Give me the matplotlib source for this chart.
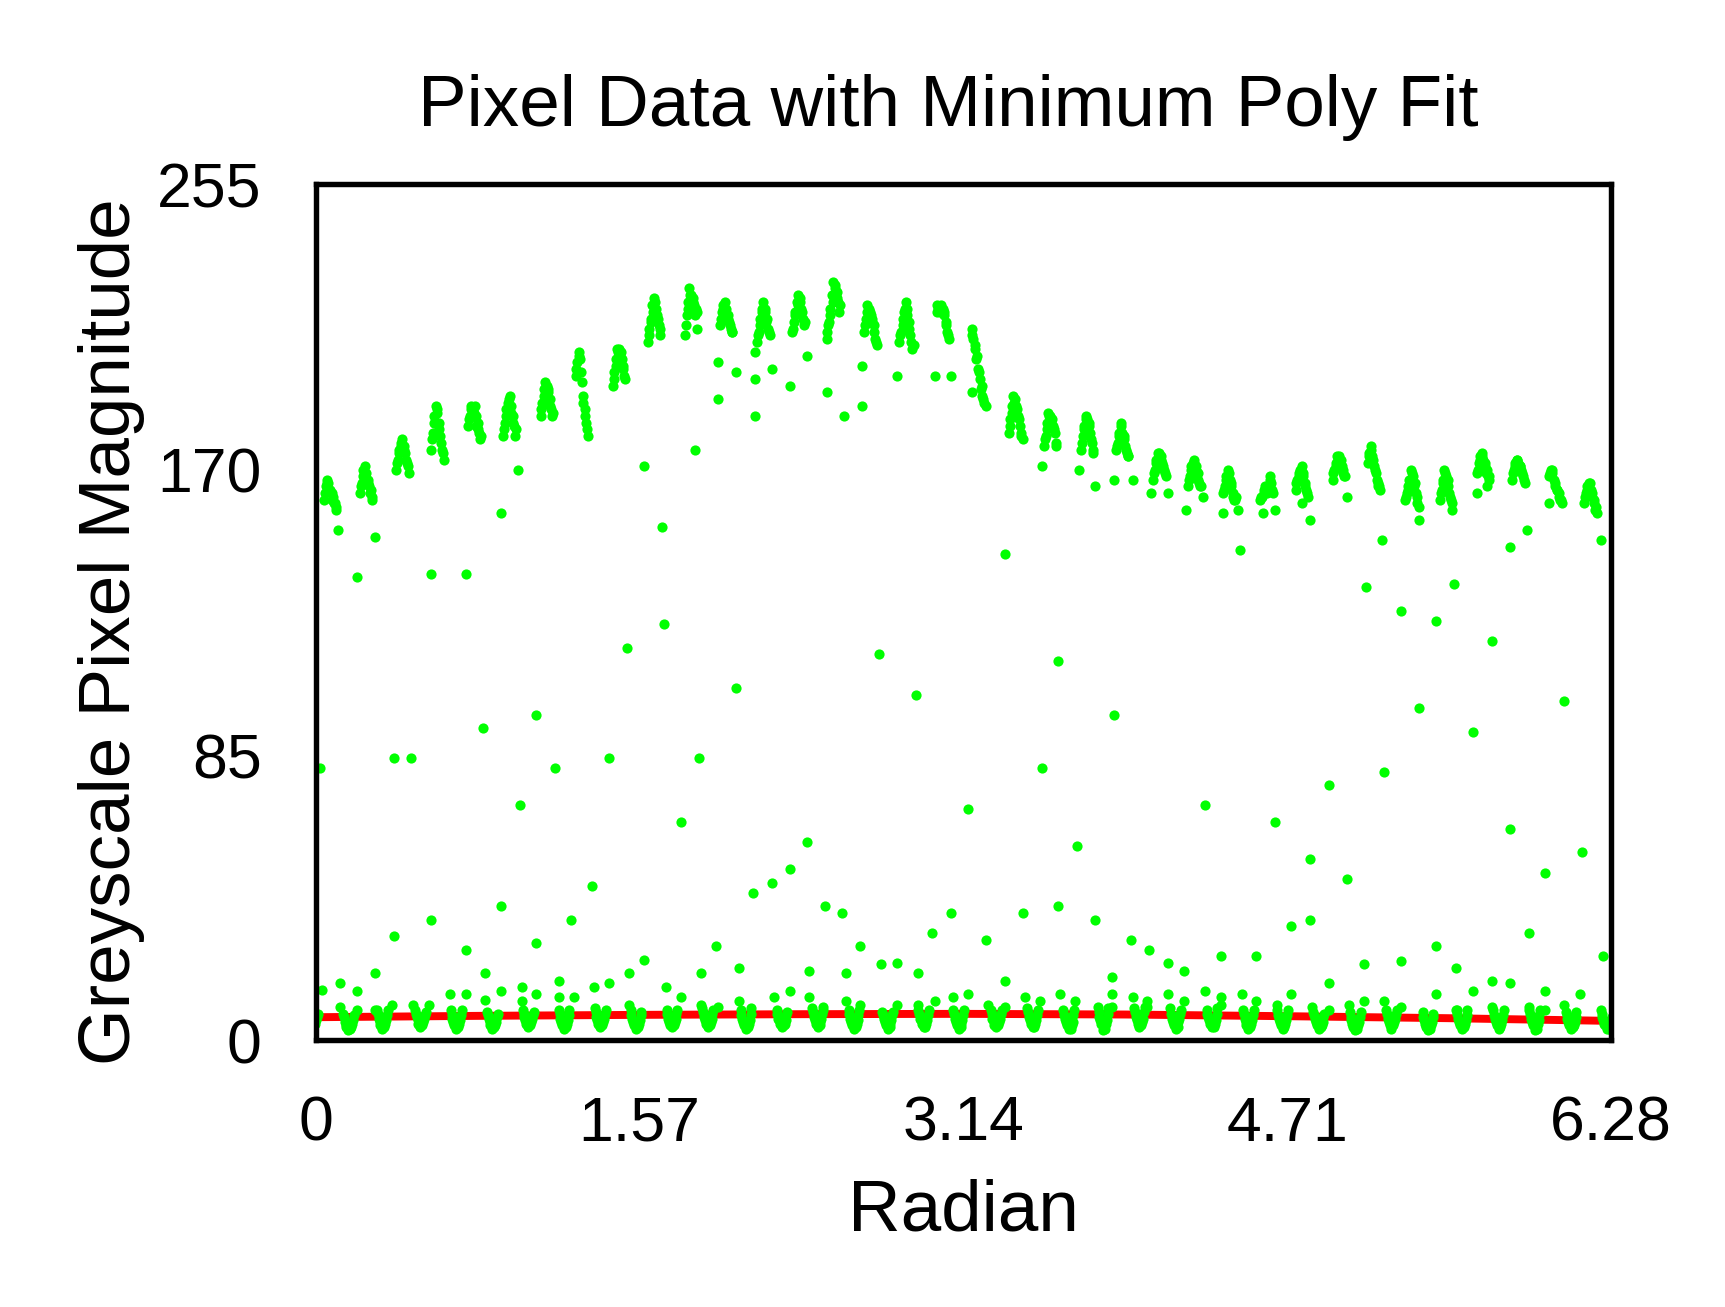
import matplotlib.pyplot as plt

plt.rcParams['font.family'] = ['Liberation Sans', 'DejaVu Sans']

# bright bands: one clump of samples per spoke
upper_centers = [0.07, 0.245, 0.42, 0.59, 0.77, 0.94, 1.12, 1.29, 1.47, 1.64, 1.82, 1.99,
                 2.17, 2.34, 2.51, 2.69, 2.86, 3.04, 3.21, 3.39, 3.56, 3.74, 3.91, 4.09,
                 4.26, 4.43, 4.61, 4.78, 4.96, 5.13, 5.31, 5.48, 5.66, 5.83, 6.01, 6.18]
upper_dx = [-0.03, -0.022, -0.015, -0.008, 0.0, 0.008, 0.015, 0.022, 0.03]
upper_vals = [
    [161, 165, 167, 166, 164, 163, 162, 160, 159],
    [163, 166, 170, 171, 169, 167, 165, 164, 162],
    [170, 173, 176, 178, 179, 177, 175, 172, 169],
    [176, 181, 186, 189, 187, 184, 180, 176, 173],
    [183, 186, 189, 188, 189, 186, 184, 181, 180],
    [180, 184, 188, 190, 192, 189, 186, 183, 182],
    [186, 190, 194, 196, 195, 194, 191, 188, 187],
    [198, 202, 205, 203, 196, 192, 188, 184, 180],
    [195, 199, 203, 206, 206, 205, 203, 200, 197],
    [208, 212, 215, 219, 221, 218, 216, 213, 212],
    [210, 216, 220, 224, 222, 221, 219, 218, 217],
    [213, 217, 219, 220, 218, 216, 214, 212, 211],
    [208, 211, 215, 218, 220, 217, 214, 212, 210],
    [211, 214, 217, 220, 222, 220, 218, 215, 214],
    [211, 214, 218, 222, 226, 225, 223, 220, 219],
    [211, 215, 219, 218, 216, 215, 213, 209, 207],
    [208, 211, 215, 217, 220, 216, 214, 210, 206],
    [219, 218, 217, 219, 218, 216, 214, 211, 209],
    [212, 209, 206, 203, 200, 197, 194, 192, 190],
    [181, 185, 189, 192, 191, 188, 186, 183, 180],
    [177, 180, 184, 187, 186, 185, 183, 181, 178],
    [176, 180, 183, 186, 185, 184, 181, 178, 175],
    [176, 178, 181, 184, 181, 179, 177, 175, 174],
    [167, 170, 173, 175, 175, 174, 172, 170, 168],
    [165, 168, 171, 172, 173, 171, 169, 166, 165],
    [163, 165, 168, 170, 167, 165, 163, 161, 162],
    [161, 162, 164, 165, 163, 165, 168, 166, 163],
    [164, 167, 169, 170, 171, 168, 166, 164, 162],
    [167, 170, 172, 174, 174, 173, 171, 169, 168],
    [172, 175, 177, 174, 171, 169, 167, 165, 164],
    [161, 163, 165, 167, 170, 168, 165, 163, 160],
    [161, 164, 167, 170, 168, 165, 163, 161, 158],
    [169, 172, 174, 175, 173, 171, 169, 168, 167],
    [167, 170, 172, 173, 172, 171, 170, 168, 166],
    [168, 170, 169, 167, 165, 164, 163, 161, 160],
    [160, 163, 165, 166, 164, 162, 160, 158, 157],
]
# second row of samples in each clump
upper_dx2 = [-0.026, -0.015, -0.004, 0.007, 0.018, 0.027]
upper_vals2 = [
    [163, 166, 164, 161, 160, 158],
    [165, 168, 169, 166, 163, 161],
    [172, 175, 177, 176, 173, 171],
    [179, 184, 188, 182, 178, 175],
    [185, 188, 187, 183, 182, 179],
    [182, 186, 191, 187, 184, 180],
    [188, 192, 195, 193, 189, 186],
    [200, 204, 199, 190, 186, 182],
    [197, 201, 205, 204, 201, 198],
    [210, 214, 217, 220, 215, 210],
    [213, 218, 222, 220, 216, 212],
    [215, 218, 217, 215, 213, 211],
    [210, 213, 217, 218, 215, 211],
    [212, 216, 219, 221, 217, 213],
    [213, 216, 220, 224, 221, 217],
    [213, 217, 217, 214, 211, 208],
    [210, 213, 218, 218, 212, 208],
    [217, 218, 218, 217, 213, 210],
    [210, 207, 204, 199, 195, 191],
    [183, 187, 190, 189, 185, 181],
    [179, 182, 186, 184, 182, 177],
    [178, 182, 185, 183, 179, 176],
    [177, 180, 183, 180, 176, 174],
    [169, 172, 174, 173, 171, 169],
    [167, 170, 172, 170, 167, 165],
    [164, 167, 169, 166, 162, 161],
    [162, 163, 164, 164, 167, 164],
    [166, 168, 170, 169, 165, 163],
    [169, 171, 173, 172, 170, 168],
    [174, 176, 173, 170, 166, 165],
    [162, 164, 166, 169, 166, 162],
    [163, 166, 169, 167, 162, 160],
    [170, 173, 174, 172, 170, 168],
    [169, 171, 173, 171, 169, 167],
    [169, 170, 166, 164, 162, 161],
    [162, 164, 166, 163, 161, 159],
]

# dark gaps between spokes: U shaped dips near zero
lower_centers = [-0.015, 0.158, 0.323, 0.507, 0.681, 0.856, 1.030, 1.204, 1.379, 1.553,
                 1.727, 1.901, 2.086, 2.260, 2.434, 2.609, 2.773, 2.947, 3.117, 3.299,
                 3.475, 3.651, 3.817, 3.993, 4.169, 4.345, 4.521, 4.687, 4.863, 5.039,
                 5.215, 5.392, 5.557, 5.734, 5.910, 6.086, 6.260]
lower_dx = [-0.026, -0.018, -0.009, 0.0, 0.009, 0.018, 0.026]
lower_vals = [
    [9, 7, 5, 4, 4.5, 6, 8],
    [8, 5.5, 4, 3, 3.5, 5, 7.5],
    [9, 6.5, 4.5, 3.5, 4, 6, 9],
    [9, 7, 5, 4, 4.5, 6.5, 8.5],
    [9, 6.5, 4.5, 3.5, 4, 6, 9],
    [8.5, 6.5, 4.5, 3.5, 4, 5.5, 8],
    [9, 7, 5, 4, 4.5, 6.5, 8.5],
    [9, 6.5, 4.5, 3.5, 4, 6, 9],
    [9.5, 7, 5, 4, 4.5, 6.5, 9],
    [9, 6.5, 4.5, 3.5, 4, 6, 8.5],
    [9, 6.5, 4.5, 4, 4.5, 6.5, 9],
    [9.5, 7, 5, 4, 4.5, 6.5, 9],
    [9, 6.5, 4.5, 3.5, 4, 6, 9.5],
    [9, 6.5, 5, 4, 4.5, 6, 8.5],
    [9.5, 7, 5, 4, 4.5, 6.5, 9],
    [9, 6.5, 4.5, 3.5, 4, 6, 9],
    [8.5, 6.5, 4.5, 3.5, 4, 6, 8.5],
    [9, 6.5, 5, 4, 4, 6, 9],
    [9, 6.5, 4.5, 3.5, 4, 6, 9],
    [9, 6.5, 4.5, 4, 4.5, 6.5, 9],
    [9.5, 7, 5, 4, 4, 6, 9],
    [9, 6.5, 4.5, 3.5, 3.5, 5.5, 9],
    [10, 7, 5, 3, 3.5, 6, 9.5],
    [9.5, 7, 5, 4, 4.5, 6.5, 10],
    [9.5, 6.5, 4.5, 3.5, 4, 6.5, 9],
    [9, 7, 5, 4, 4, 6, 9.5],
    [9, 6.5, 4.5, 3.5, 4, 6, 9],
    [9, 6.5, 4.5, 3.5, 4, 6, 9],
    [8.5, 6.5, 4.5, 3.5, 4, 5.5, 8],
    [8.5, 6, 4, 3, 3.5, 5.5, 8.5],
    [9, 6.5, 4.5, 3.5, 4.5, 6.5, 9],
    [8.5, 6, 4, 3, 3.5, 5.5, 8],
    [9, 6.5, 4.5, 3.5, 4, 6, 9],
    [9, 6.5, 4.5, 3.5, 4, 6, 9],
    [9, 6.5, 4.5, 3, 3.5, 6, 9],
    [8.5, 6.5, 4.5, 3.5, 4, 5.5, 8.5],
    [8, 6, 4.5, 3.5, 3.5, 5, 7],
]
# extra samples on the arms of each dip
lower_dx2 = [-0.022, -0.013, 0.013, 0.022]
lower_vals2 = [
    [8, 6, 5, 7], [7, 4.5, 4, 6], [8, 5.5, 5, 7.5], [8, 6, 5.5, 7.5],
    [7.5, 5.5, 5, 7.5], [7.5, 5.5, 4.5, 7], [8, 6, 5.5, 7.5], [8, 5.5, 5, 7.5],
    [8.5, 6, 5.5, 8], [7.5, 5.5, 5, 7.5], [8, 5.5, 5.5, 8], [8.5, 6, 5.5, 8],
    [7.5, 5.5, 5, 8], [8, 6, 5, 7.5], [8.5, 6, 5.5, 8], [8, 5.5, 5, 7.5],
    [7.5, 5.5, 5, 7.5], [8, 6, 5, 7.5], [8, 5.5, 5, 7.5], [8, 5.5, 5.5, 8],
    [8.5, 6, 5, 7.5], [7.5, 5.5, 4.5, 7.5], [8.5, 6, 5, 8], [8.5, 6, 5.5, 8.5],
    [8, 5.5, 5.5, 8], [8, 6, 5, 8], [8, 5.5, 5, 7.5], [7.5, 5.5, 5, 7.5],
    [7.5, 5.5, 4.5, 7], [7, 5, 4.5, 7], [8, 5.5, 5.5, 8], [7, 5, 4.5, 7],
    [8, 5.5, 5, 7.5], [7.5, 5.5, 5, 7.5], [8, 5.5, 5, 7.5], [7.5, 5.5, 4.5, 7],
    [7, 5, 4.5, 6],
]

# isolated samples on the spoke edges
mid_x = [0.02, 0.11, 0.20, 0.29, 0.38, 0.38, 0.46, 0.56, 0.56, 0.73, 0.73, 0.81, 0.90, 0.90,
         0.98, 0.99, 1.07, 1.07, 1.16, 1.24, 1.34, 1.42, 1.51, 1.59, 1.59, 1.68, 1.69, 1.77,
         1.86, 1.84, 1.94, 2.04, 2.12, 2.21, 2.30, 2.38, 2.47, 2.55, 2.64, 2.73, 2.82, 2.91,
         2.99, 3.08, 3.16, 3.25, 3.34, 3.43, 3.52, 3.60, 3.60, 3.69, 3.78, 3.87, 3.95, 4.04,
         4.31, 4.39, 4.48, 4.56, 4.65, 4.73, 4.82, 4.82, 4.91, 5.00, 5.09, 5.17, 5.18, 5.26,
         5.35, 5.43, 5.43, 5.52, 5.61, 5.70, 5.79, 5.79, 5.87, 5.88, 5.96, 6.05, 6.14, 6.23,
         6.24,
         1.95, 2.04, 1.95, 2.13, 2.13, 2.13, 2.21, 2.38, 2.30, 2.48, 2.56, 2.48, 2.65, 2.65,
         2.82, 2.90, 3.00, 3.08, 3.18, 3.25, 3.43, 3.52, 3.70, 3.78, 3.87, 3.96, 4.05, 4.13,
         4.30, 4.22, 4.40, 4.47, 4.59, 4.65, 4.78, 4.82, 5.00, 5.35, 5.35, 5.63, 5.68, 5.98]
mid_y = [81, 152, 138, 150, 84, 31, 84, 139, 36, 139, 27, 93, 40, 157,
         170, 70, 97, 29, 81, 36, 46, 84, 117, 171, 24, 153, 124, 65,
         84, 176, 28, 105, 44, 47, 51, 59, 40, 38, 28, 115, 23, 103,
         32, 38, 69, 30, 145, 38, 81, 113, 40, 58, 36, 97, 30, 27,
         70, 25, 146, 25, 65, 34, 54, 36, 76, 48, 135, 149, 80, 128,
         99, 125, 28, 136, 92, 119, 147, 63, 152, 32, 50, 101, 56, 149,
         25,
         202, 199, 191, 205, 197, 186, 200, 204, 195, 193, 186, 209, 201, 189,
         198, 207, 198, 198, 193, 189, 179, 171, 170, 165, 167, 167, 163, 163,
         162, 158, 157, 158, 157, 158, 160, 155, 162, 159, 155, 163, 165, 160]

# scattered low samples just above the dips
low_x = [0.03, 0.12, 0.12, 0.20, 0.20, 0.29, 0.29, 0.37, 0.47, 0.55, 0.65, 0.73, 0.82, 0.82,
         0.90, 1.00, 1.00, 1.07, 1.18, 1.18, 1.25, 1.35, 1.42, 1.52, 1.52, 1.70, 1.77, 1.87,
         1.87, 1.95, 2.05, 2.05, 2.22, 2.30, 2.39, 2.39, 2.46, 2.57, 2.57, 2.64, 2.74, 2.82,
         2.92, 2.92, 3.00, 3.09, 3.16, 3.26, 3.34, 3.34, 3.44, 3.51, 3.61, 3.68, 3.86, 3.86,
         3.86, 3.96, 4.03, 4.03, 4.13, 4.13, 4.21, 4.21, 4.31, 4.39, 4.39, 4.49, 4.56, 4.66,
         4.73, 4.83, 4.91, 4.91, 5.01, 5.08, 5.08, 5.18, 5.26, 5.26, 5.43, 5.53, 5.53, 5.61,
         5.70, 5.70, 5.79, 5.88, 5.96, 5.96, 6.05, 6.13, 6.23]
low_y = [14.9, 17, 9.8, 14.7, 9, 20, 9, 10.6, 10.6, 10.6, 13.7, 13.7, 20, 12,
         14.7, 15.8, 11.7, 13.7, 17.6, 12.8, 12.8, 15.8, 17, 20, 10.6, 15.8, 12.8, 20,
         10.6, 9.8, 21.7, 11.7, 12.8, 14.7, 20.8, 12.8, 9.8, 20, 11.7, 10.6, 22.6, 10.6,
         20, 10.6, 11.7, 12.8, 13.7, 10.6, 17.6, 9.8, 12.8, 11.7, 13.7, 11.7, 18.8, 13.7,
         9.8, 12.8, 11.7, 9.8, 22.9, 13.7, 20.6, 11.7, 14.7, 12.8, 10.6, 13.7, 11.7, 10.6,
         13.7, 9.8, 17, 9, 10.6, 22.6, 11.7, 11.7, 23.5, 9.8, 13.7, 21.7, 9, 14.7,
         17.6, 9.8, 17, 9.8, 14.7, 9, 10.6, 13.7, 9]

# minimum polynomial fit
fit_x = [0, 0.785, 1.57, 2.36, 3.14, 3.93, 4.71, 5.50, 6.28]
fit_y = [6.9, 7.3, 7.6, 7.8, 7.9, 7.7, 7.2, 6.6, 5.8]

xs, ys = [], []
for centers, offsets, rows in [(upper_centers, upper_dx, upper_vals),
                               (upper_centers, upper_dx2, upper_vals2),
                               (lower_centers, lower_dx, lower_vals),
                               (lower_centers, lower_dx2, lower_vals2)]:
    for c, vals in zip(centers, rows):
        for dx, v in zip(offsets, vals):
            xs.append(c + dx)
            ys.append(v)
xs += mid_x + low_x
ys += mid_y + low_y

fig = plt.figure(figsize=(5.75, 1307 / 300), dpi=300)
ax = fig.add_axes([0.183, 0.204, 0.751, 0.655])

ax.plot(fit_x, fit_y, color='#ff0000', linewidth=1.9, zorder=1)
ax.scatter(xs, ys, s=6, color='#00ff00', linewidths=0, antialiased=False, zorder=2)

ax.set_xlim(0, 6.28)
ax.set_ylim(0, 255)
ax.set_xticks([0, 1.57, 3.14, 4.71, 6.28])
ax.set_xticklabels(['0', '1.57', '3.14', '4.71', '6.28'])
ax.set_yticks([0, 85, 170, 255])
ax.set_yticklabels(['0', '85', '170', '255'])
ax.tick_params(length=0, labelsize=15, pad=13)
for sp in ax.spines.values():
    sp.set_linewidth(1.3)
    sp.set_color('black')

ax.set_title('Pixel Data with Minimum Poly Fit', fontsize=17.5, pad=14, x=0.488)
ax.set_xlabel('Radian', fontsize=17.5, labelpad=6)
ax.set_ylabel('Greyscale Pixel Magnitude', fontsize=17.5, labelpad=3)
ax.yaxis.label.set_y(0.477)

fig.savefig('out.png', dpi=300)
